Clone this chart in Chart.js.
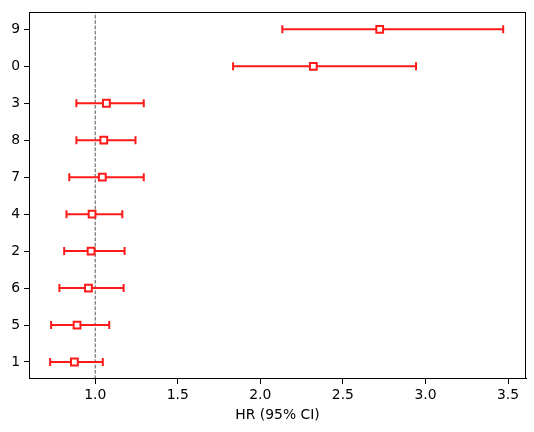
<!DOCTYPE html>
<html>
<head>
<meta charset="utf-8">
<script src="https://cdn.jsdelivr.net/npm/chart.js@4/dist/chart.umd.min.js"></script>
<style>
  html, body { margin: 0; padding: 0; background: #fff; }
  #wrap { width: 534px; height: 432px; }
</style>
</head>
<body>
<div id="wrap"><canvas id="c" width="534" height="432"></canvas></div>
<script>
// Categories from bottom to top
const categories = ['1', '5', '6', '2', '4', '7', '8', '3', '0', '9'];
const hr    = [0.874, 0.890, 0.959, 0.975, 0.981, 1.043, 1.052, 1.068, 2.321, 2.723];
const lower = [0.727, 0.733, 0.783, 0.812, 0.826, 0.843, 0.886, 0.886, 1.835, 2.133];
const upper = [1.046, 1.085, 1.172, 1.178, 1.164, 1.294, 1.244, 1.294, 2.943, 3.471];
const refValue = 1.0;
const xTicks = [1.0, 1.5, 2.0, 2.5, 3.0, 3.5];

const RED = '#ff1a1a';
const FONT = { family: 'DejaVu Sans', size: 13.9 };

const yMin = -0.46, yMax = categories.length - 1 + 0.46;

const datasets = [];
datasets.push({
  type: 'scatter',
  label: 'HR',
  data: hr.map((v, i) => ({ x: v, y: i })),
  pointStyle: 'rect',
  pointRadius: 4.8,
  pointHoverRadius: 4.8,
  backgroundColor: '#ffffff',
  borderColor: RED,
  borderWidth: 2,
  order: 0
});
categories.forEach((c, i) => {
  datasets.push({
    type: 'line',
    label: 'CI ' + c,
    data: [{ x: lower[i], y: i }, { x: upper[i], y: i }],
    borderColor: RED,
    borderWidth: 2,
    pointStyle: 'line',
    rotation: 90,
    pointRadius: 4,
    pointHoverRadius: 4,
    pointBorderColor: RED,
    pointBorderWidth: 2,
    fill: false,
    order: 1
  });
});
datasets.push({
  type: 'line',
  label: 'ref',
  data: [{ x: refValue, y: yMin }, { x: refValue, y: yMax }],
  borderColor: '#555555',
  borderWidth: 1,
  borderDash: [3.7, 1.6],
  pointRadius: 0,
  fill: false,
  order: 2
});

const framePlugin = {
  id: 'frame',
  afterDraw(chart) {
    const a = chart.chartArea, ctx = chart.ctx;
    ctx.save();
    ctx.strokeStyle = '#000';
    ctx.lineWidth = 1;
    ctx.strokeRect(Math.round(a.left) + 0.5, Math.round(a.top) + 0.5,
                   Math.round(a.right - a.left) - 1, Math.round(a.bottom - a.top) - 1);
    ctx.restore();
  }
};

new Chart(document.getElementById('c'), {
  data: { datasets },
  options: {
    responsive: false,
    animation: false,
    events: [],
    layout: { padding: { top: 9, right: 8, left: 0, bottom: 8 } },
    plugins: { legend: { display: false }, tooltip: { enabled: false } },
    scales: {
      x: {
        type: 'linear',
        min: 0.599,
        max: 3.609,
        afterBuildTicks(scale) { scale.ticks = xTicks.map(v => ({ value: v })); },
        ticks: {
          font: FONT, color: '#000', padding: 3,
          callback: v => Number(v).toFixed(1)
        },
        grid: { drawOnChartArea: false, drawTicks: true, tickLength: 5, color: '#000' },
        border: { display: true, color: '#000', width: 1 },
        title: { display: true, text: 'HR (95% CI)', font: FONT, color: '#000', padding: { top: 2, bottom: 0 } },
        afterFit(scale) { scale.height = 45; }
      },
      y: {
        type: 'linear',
        min: yMin,
        max: yMax,
        afterBuildTicks(scale) { scale.ticks = categories.map((c, i) => ({ value: i })); },
        ticks: {
          font: FONT, color: '#000', padding: 4,
          callback: v => categories[Math.round(v)]
        },
        grid: { drawOnChartArea: false, drawTicks: true, tickLength: 5, color: '#000' },
        border: { display: true, color: '#000', width: 1 },
        afterFit(scale) { scale.width = 29; }
      }
    }
  },
  plugins: [framePlugin]
});
</script>
</body>
</html>
